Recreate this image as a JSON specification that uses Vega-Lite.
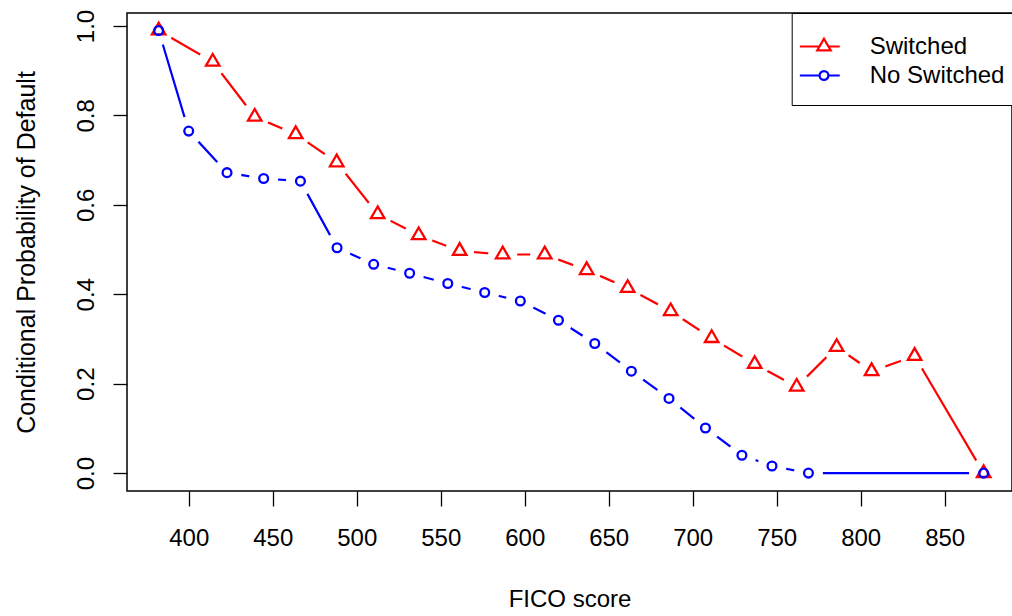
{
  "$schema": "https://vega.github.io/schema/vega-lite/v6.json",
  "width": 885,
  "height": 478,
  "autosize": {"type": "none"},
  "padding": {"left": 127, "top": 13, "right": 0, "bottom": 125},
  "background": "white",
  "config": {
    "font": "Liberation Sans",
    "view": {"stroke": "black", "strokeWidth": 1.5},
    "axis": {"grid": false, "domain": false, "tickColor": "black", "tickWidth": 1.3, "labelColor": "black", "titleColor": "black", "titleFontWeight": "normal", "labelFont": "Liberation Sans", "titleFont": "Liberation Sans"}
  },
  "data": {
    "values": [
      {"series": "Switched", "fico": 382.1, "p": 0.99},
      {"series": "Switched", "fico": 414.3, "p": 0.92},
      {"series": "Switched", "fico": 439.3, "p": 0.797},
      {"series": "Switched", "fico": 463.7, "p": 0.758},
      {"series": "Switched", "fico": 488.1, "p": 0.695},
      {"series": "Switched", "fico": 512.5, "p": 0.579},
      {"series": "Switched", "fico": 536.9, "p": 0.532},
      {"series": "Switched", "fico": 561.3, "p": 0.497},
      {"series": "Switched", "fico": 586.9, "p": 0.489},
      {"series": "Switched", "fico": 611.9, "p": 0.489},
      {"series": "Switched", "fico": 636.9, "p": 0.454},
      {"series": "Switched", "fico": 661.3, "p": 0.414},
      {"series": "Switched", "fico": 686.9, "p": 0.362},
      {"series": "Switched", "fico": 711.3, "p": 0.302},
      {"series": "Switched", "fico": 736.9, "p": 0.244},
      {"series": "Switched", "fico": 761.9, "p": 0.193},
      {"series": "Switched", "fico": 785.7, "p": 0.282},
      {"series": "Switched", "fico": 806.5, "p": 0.228},
      {"series": "Switched", "fico": 832.1, "p": 0.262},
      {"series": "Switched", "fico": 873.2, "p": 0.0},
      {"series": "No Switched", "fico": 382.1, "p": 0.99},
      {"series": "No Switched", "fico": 400.0, "p": 0.765},
      {"series": "No Switched", "fico": 422.8, "p": 0.672},
      {"series": "No Switched", "fico": 444.6, "p": 0.659},
      {"series": "No Switched", "fico": 466.5, "p": 0.653},
      {"series": "No Switched", "fico": 488.3, "p": 0.504},
      {"series": "No Switched", "fico": 510.1, "p": 0.467},
      {"series": "No Switched", "fico": 531.5, "p": 0.447},
      {"series": "No Switched", "fico": 554.2, "p": 0.424},
      {"series": "No Switched", "fico": 576.2, "p": 0.404},
      {"series": "No Switched", "fico": 597.4, "p": 0.385},
      {"series": "No Switched", "fico": 620.1, "p": 0.342},
      {"series": "No Switched", "fico": 641.7, "p": 0.29},
      {"series": "No Switched", "fico": 663.5, "p": 0.228},
      {"series": "No Switched", "fico": 685.9, "p": 0.167},
      {"series": "No Switched", "fico": 707.6, "p": 0.101},
      {"series": "No Switched", "fico": 729.3, "p": 0.04},
      {"series": "No Switched", "fico": 747.2, "p": 0.016},
      {"series": "No Switched", "fico": 768.9, "p": 0.0},
      {"series": "No Switched", "fico": 873.2, "p": 0.0}
    ]
  },
  "encoding": {
    "x": {
      "field": "fico", "type": "quantitative",
      "scale": {"domain": [363.27, 890.07], "nice": false, "zero": false},
      "axis": {"values": [400, 450, 500, 550, 600, 650, 700, 750, 800, 850], "tickSize": 15, "labelFontSize": 24, "labelPadding": 20, "title": "FICO score", "titleFontSize": 24, "titlePadding": 37}
    },
    "y": {
      "field": "p", "type": "quantitative",
      "scale": {"domain": [-0.04, 1.0291], "nice": false, "zero": false},
      "axis": {"values": [0, 0.2, 0.4, 0.6, 0.8, 1.0], "format": ".1f", "tickSize": 14, "labelFontSize": 24, "labelAngle": 270, "labelAlign": "center", "labelBaseline": "alphabetic", "labelPadding": 20, "title": "Conditional Probability of Default", "titleFontSize": 25, "titlePadding": 35}
    }
  },
  "layer": [
    {
      "mark": {"type": "line", "strokeWidth": 2.2},
      "encoding": {
        "color": {
          "field": "series", "type": "nominal",
          "scale": {"domain": ["Switched", "No Switched"], "range": ["#FF0000", "#0000FF"]},
          "legend": {
            "title": null, "orient": "none", "legendX": 664.7, "legendY": 0,
            "padding": 17, "strokeColor": "black", "fillColor": "white", "cornerRadius": 0,
            "labelFont": "Liberation Sans", "labelFontSize": 24, "labelColor": "black", "labelOffset": 28, "labelLimit": 300,
            "symbolSize": 900, "symbolStrokeWidth": 2.2, "rowPadding": 0
          }
        }
      }
    },
    {
      "mark": {"type": "point", "shape": "circle", "size": 841, "filled": true, "color": "white", "opacity": 1, "strokeWidth": 0},
      "encoding": {"detail": {"field": "series"}}
    },
    {
      "transform": [{"filter": "datum.series === 'Switched'"}],
      "mark": {"type": "point", "shape": "M0,-0.975L0.844,0.4875L-0.844,0.4875Z", "size": 256, "filled": false, "color": "#FF0000", "strokeWidth": 2.3, "opacity": 1}
    },
    {
      "transform": [{"filter": "datum.series === 'No Switched'"}],
      "mark": {"type": "point", "shape": "M0.55,0C0.55,0.3038,0.3038,0.55,0,0.55C-0.3038,0.55,-0.55,0.3038,-0.55,0C-0.55,-0.3038,-0.3038,-0.55,0,-0.55C0.3038,-0.55,0.55,-0.3038,0.55,0Z", "size": 256, "filled": false, "color": "#0000FF", "strokeWidth": 2.3, "opacity": 1}
    },
    {
      "transform": [{"filter": "datum.p > 5"}],
      "mark": {"type": "point", "size": 900, "filled": false, "strokeWidth": 2.2, "opacity": 1},
      "encoding": {
        "color": {"field": "series", "type": "nominal", "scale": {"domain": ["Switched", "No Switched"], "range": ["#FF0000", "#0000FF"]}},
        "shape": {
          "field": "series", "type": "nominal",
          "scale": {"domain": ["Switched", "No Switched"], "range": ["M-1.69,0H-0.38M0.22,0H0.97M-0.08,-0.52L0.37,0.26L-0.53,0.26Z", "M-1.69,0H-0.373M0.213,0H0.97M0.213,0C0.213,0.1618,0.0818,0.293,-0.08,0.293C-0.2418,0.293,-0.373,0.1618,-0.373,0C-0.373,-0.1618,-0.2418,-0.293,-0.08,-0.293C0.0818,-0.293,0.213,-0.1618,0.213,0Z"]}
        }
      }
    }
  ]
}
